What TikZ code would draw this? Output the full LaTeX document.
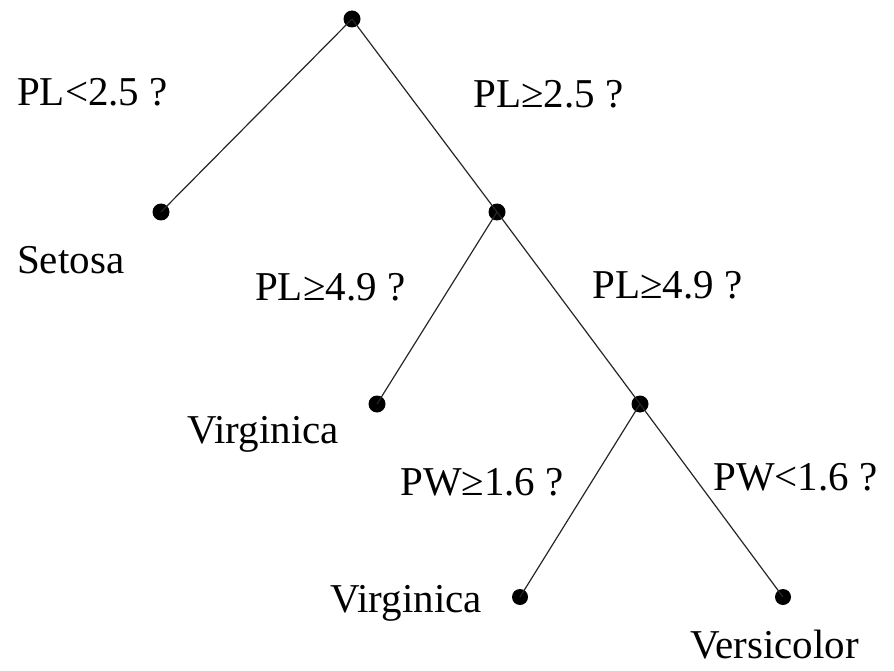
\documentclass[tikz,border=0pt]{standalone}
\usepackage{fontspec}
\setmainfont{Liberation Serif}
\begin{document}
\begin{tikzpicture}[x=1pt,y=-1pt,
  dot/.style={circle,fill=black,inner sep=0pt,minimum size=17pt},
  edge/.style={draw=black!85,line width=1.2pt},
  lbl/.style={anchor=base west,inner sep=0pt,font=\fontsize{41}{48}\selectfont}]
\useasboundingbox (0,0) rectangle (894,671);
% decision points
\node[dot] (root) at (352,19) {};
\node[dot] (setosa) at (161,212) {};
\node[dot] (n2) at (497,212) {};
\node[dot] (virg1) at (377,404) {};
\node[dot] (n3) at (640,404) {};
\node[dot,minimum size=16pt] (virg2) at (520,597) {};
\node[dot,minimum size=16pt] (vers) at (783,597) {};
% connectors
\draw[edge] (root.center) -- (setosa.center);
\draw[edge] (root.center) -- (n2.center);
\draw[edge] (n2.center) -- (virg1.center);
\draw[edge] (n2.center) -- (n3.center);
\draw[edge] (n3.center) -- (virg2.center);
\draw[edge] (n3.center) -- (vers.center);
% labels
\node[lbl] (q1) at (17,106) {PL<2.5 ?};
\node[lbl] (q2) at (473,108) {PL≥2.5 ?};
\node[lbl] (tSetosa) at (17,273) {Setosa};
\node[lbl] (q3) at (255,300) {PL≥4.9 ?};
\node[lbl] (q4) at (592,298) {PL≥4.9 ?};
\node[lbl] (tVirg1) at (187,443) {Virginica};
\node[lbl] (q5) at (400,495) {PW≥1.6 ?};
\node[lbl] (q6) at (713,490) {PW<1.6 ?};
\node[lbl] (tVirg2) at (330,612) {Virginica};
\node[lbl] (tVers) at (690,658) {Versicolor};
\end{tikzpicture}
\end{document}
